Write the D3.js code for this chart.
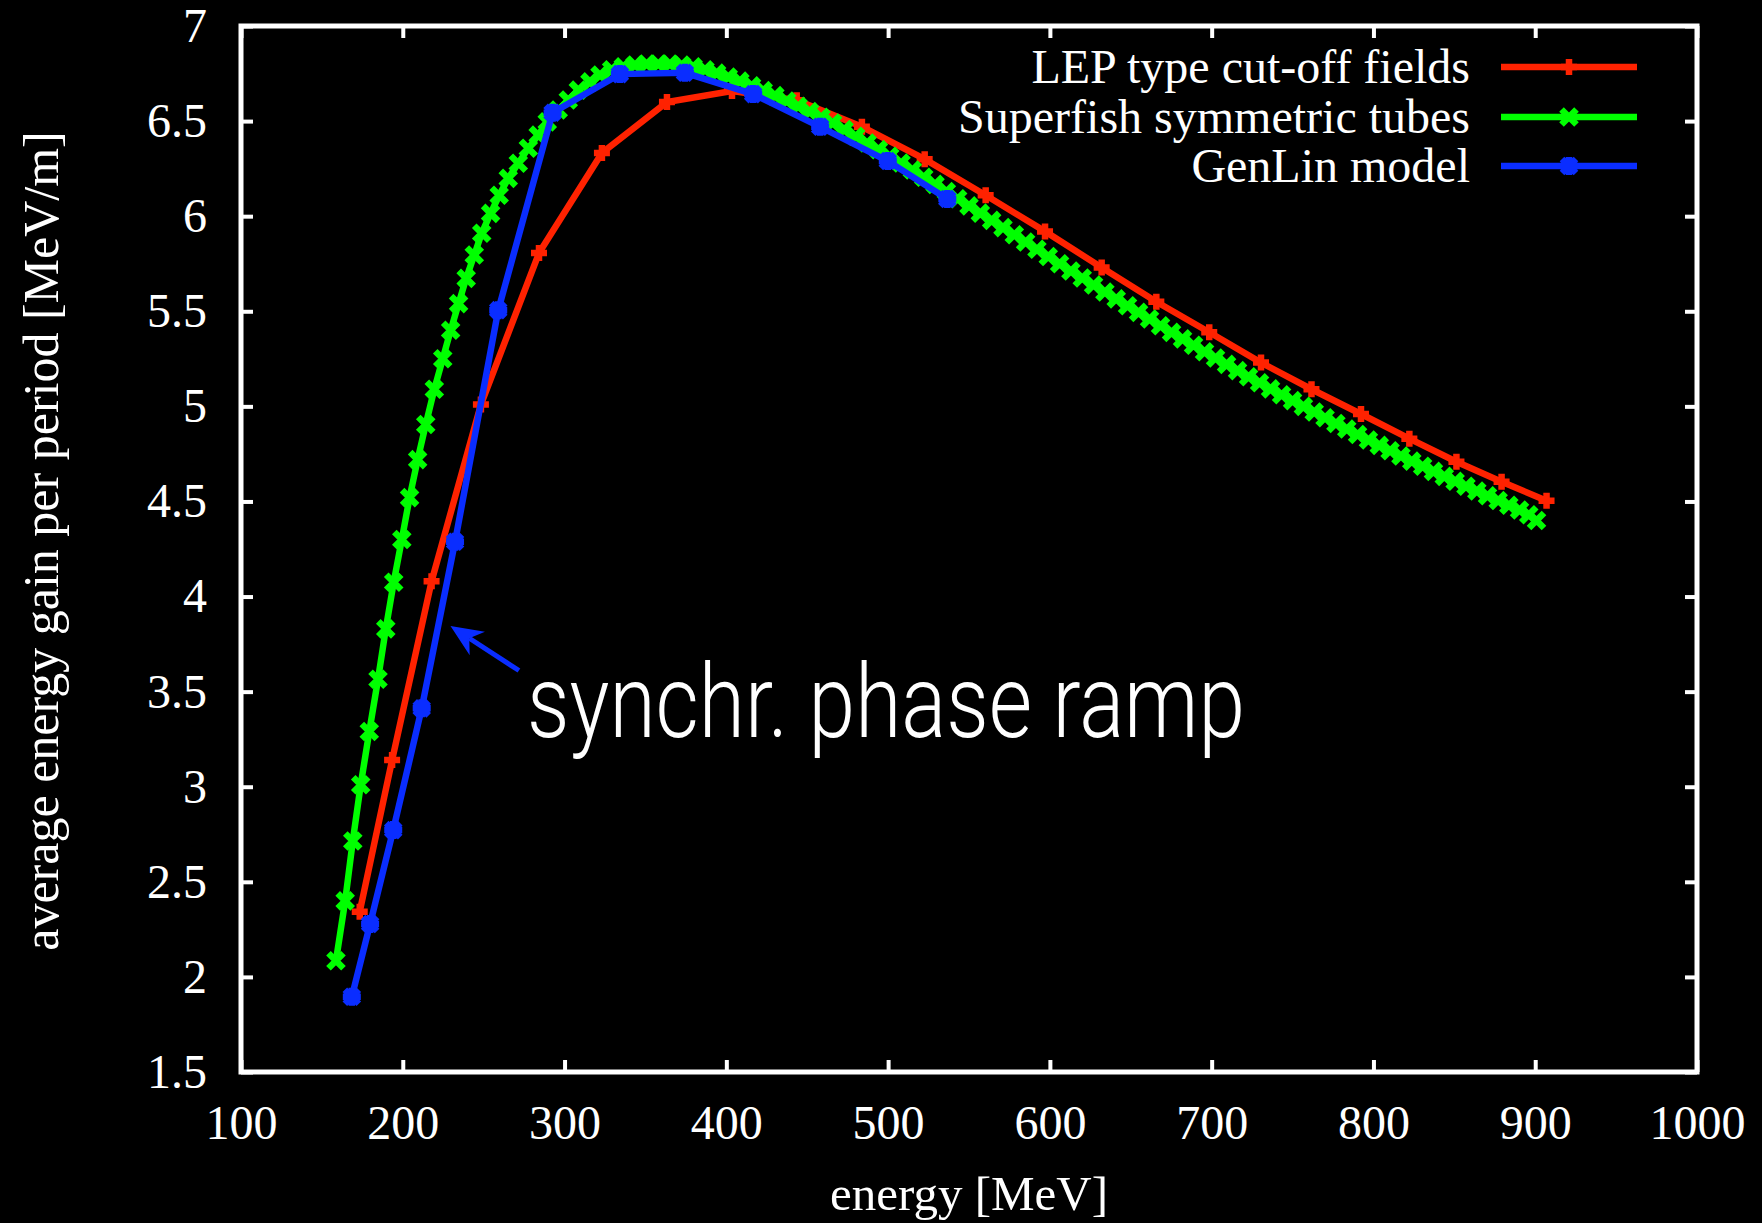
<!DOCTYPE html>
<html>
<head>
<meta charset="utf-8">
<script src="https://cdn.jsdelivr.net/npm/d3@7"></script>
<style>
html,body{margin:0;padding:0;background:#000;}
svg{display:block;}
</style>
</head>
<body>
<svg id="chart" width="1762" height="1223"></svg>
<script>
// ---------- data ----------
const xTicks = [100,200,300,400,500,600,700,800,900,1000];
const yTicks = [1.5,2,2.5,3,3.5,4,4.5,5,5.5,6,6.5,7];
const seriesNames = ["LEP type cut-off fields","Superfish symmetric tubes","GenLin model"];

const lepData = [
 [173.4,2.343],[193.4,3.14],[217.8,4.08],[248.3,5.01],[284.2,5.806],[323.1,6.332],
 [363.3,6.60],[403.5,6.658],[443.5,6.61],[483.8,6.47],[522.6,6.30],[560.3,6.11],
 [597,5.92],[632,5.73],[665.8,5.55],[698.5,5.39],[730.5,5.23],[761.7,5.09],
 [792.3,4.96],[822.2,4.83],[851.3,4.709],[879.2,4.604],[907,4.504]
];

const superfishData = [
 [158.7,2.085],[164.4,2.40],[169.1,2.715],[174.0,3.01],[179.3,3.29],[184.7,3.565],
 [189.5,3.83],[194.4,4.075],[199.4,4.30],[204.2,4.52],[209.2,4.72],[214.2,4.905],
 [219.5,5.09],[224.7,5.25],[229.6,5.40],[234.5,5.54],[239.2,5.673],[244.2,5.796],
 [248.8,5.91],[254.3,6.015],[259.6,6.11],[265.2,6.199],[271.4,6.278],[277.6,6.357],
 [283.7,6.426],[289.3,6.496],[296.1,6.558],[302.3,6.611],[308.5,6.663],[315.7,6.706],
 [321.9,6.742],[329.1,6.77],[336.3,6.785],[343.5,6.795],[350.7,6.80],[357.9,6.80],
 [365.1,6.80],[372.4,6.795],[379.5,6.785],[386.8,6.77],[394.0,6.752],[401.2,6.732],
 [408.4,6.71],[415.6,6.685],[422.8,6.66],[430.0,6.634],[437.3,6.606],[444.4,6.578],
 [451.5,6.55],[458.6,6.52],[465.7,6.49],[472.8,6.455],[479.9,6.42],[487,6.385],
 [494,6.35],[501,6.315],[508,6.28],[515,6.243],[522,6.205],[529,6.167],
 [536,6.13],[543,6.092],[550,6.054],[557,6.016],[564,5.978],[571,5.94],
 [578,5.902],[585,5.864],[592,5.826],[599,5.788],[606,5.75],[613,5.712],
 [620,5.675],[627,5.638],[634,5.601],[641,5.565],[648,5.529],[654.8,5.494],
 [661.6,5.459],[668.4,5.424],[675.2,5.389],[682,5.355],[688.8,5.321],[695.6,5.287],
 [702.4,5.254],[709.2,5.221],[716,5.188],[722.8,5.156],[729.6,5.124],[736.4,5.092],
 [743.2,5.061],[750,5.03],[756.7,5.0],[763.4,4.97],[770.1,4.94],[776.8,4.91],
 [783.5,4.881],[790.2,4.852],[796.9,4.823],[803.6,4.795],[810.3,4.767],[817,4.739],
 [823.7,4.712],[830.4,4.685],[837.1,4.658],[843.8,4.632],[850.5,4.606],[857.2,4.58],
 [863.9,4.555],[870.5,4.53],[877.1,4.505],[883.7,4.48],[890.3,4.455],[896.0,4.43],
 [900.8,4.40]
];

const genlinData = [
 [168.5,1.896],[179.8,2.278],[194.1,2.772],[211.7,3.412],[232.3,4.288],[259,5.506],
 [292.6,6.544],[334.2,6.747],[374.4,6.754],[416.6,6.642],[458,6.47],[499.8,6.29],
 [536.6,6.09]
];

const annotationText = "synchr. phase ramp";
const arrowFrom = [271.8,3.611];
const arrowTo = [229.5,3.845];
const textAt = [276.8,3.261];

// ---------- layout ----------
const W = 1762, H = 1223;
const L = 241, R = 1697, T = 26, B = 1072;
const svg = d3.select("#chart");
svg.append("rect").attr("width",W).attr("height",H).attr("fill","#000");

const x = d3.scaleLinear().domain([100,1000]).range([L,R]);
const y = d3.scaleLinear().domain([1.5,7]).range([B,T]);

const serif = "'Liberation Serif','Times New Roman',serif";
const TICK = 12;

function styleAxis(g){
  g.select(".domain").remove();
  g.selectAll(".tick line").attr("stroke","#fff").attr("stroke-width",4);
  g.selectAll(".tick text").attr("fill","#fff").style("font-family",serif).style("font-size","48px");
}

svg.append("g").attr("transform",`translate(0,${B})`)
  .call(d3.axisBottom(x).tickValues(xTicks).tickSizeInner(-TICK).tickSizeOuter(0).tickPadding(33).tickFormat(d3.format("d")))
  .call(styleAxis);
svg.append("g").attr("transform",`translate(0,${T})`)
  .call(d3.axisTop(x).tickValues(xTicks).tickSizeInner(-TICK).tickSizeOuter(0).tickFormat(""))
  .call(styleAxis);
svg.append("g").attr("transform",`translate(${L},0)`)
  .call(d3.axisLeft(y).tickValues(yTicks).tickSizeInner(-TICK).tickSizeOuter(0).tickPadding(34).tickFormat(d=>String(d)))
  .call(styleAxis);
svg.append("g").attr("transform",`translate(${R},0)`)
  .call(d3.axisRight(y).tickValues(yTicks).tickSizeInner(-TICK).tickSizeOuter(0).tickFormat(""))
  .call(styleAxis);

// frame
svg.append("rect").attr("x",L).attr("y",T).attr("width",R-L).attr("height",B-T)
  .attr("fill","none").attr("stroke","#fff").attr("stroke-width",5);

// axis titles
svg.append("text").attr("x",(L+R)/2).attr("y",1210).attr("text-anchor","middle")
  .attr("fill","#fff").style("font-family",serif).style("font-size","49px").text("energy [MeV]");
svg.append("text").attr("transform",`translate(58,${(T+B)/2 - 8}) rotate(-90)`).attr("text-anchor","middle")
  .attr("fill","#fff").style("font-family",serif).style("font-size","50px").text("average energy gain per period [MeV/m]");

// ---------- series ----------
const LW = 6.5;
const colors = ["#ff2200","#00ff00","#0a2dff"];
const plusPath = "M-8,0H8M0,-8V8";
const crossPath = "M-7.5,-7.5L7.5,7.5M-7.5,7.5L7.5,-7.5";
const starPath = "M-9,0H9M0,-9V9M-7,-7L7,7M-7,7L7,-7";
const markers = [plusPath, crossPath, starPath];
const datasets = [lepData, superfishData, genlinData];

const line = d3.line().x(d=>x(d[0])).y(d=>y(d[1]));
const plot = svg.append("g");
datasets.forEach((data,i)=>{
  const g = plot.append("g");
  g.append("path").datum(data).attr("d",line).attr("fill","none")
    .attr("stroke",colors[i]).attr("stroke-width",LW).attr("stroke-linejoin","miter");
  g.selectAll("path.m").data(data).join("path").attr("class","m")
    .attr("transform",d=>`translate(${x(d[0])},${y(d[1])})`)
    .attr("d",markers[i]).attr("fill","none").attr("stroke",colors[i]).attr("stroke-width",LW);
});

// ---------- legend ----------
const legY = [67,117,166];
const leg = svg.append("g");
seriesNames.forEach((n,i)=>{
  leg.append("text").attr("x",1470).attr("y",legY[i]).attr("dy","0.33em").attr("text-anchor","end")
    .attr("fill","#fff").style("font-family",serif).style("font-size","48px").text(n);
  leg.append("line").attr("x1",1501).attr("x2",1637).attr("y1",legY[i]).attr("y2",legY[i])
    .attr("stroke",colors[i]).attr("stroke-width",LW);
  leg.append("path").attr("transform",`translate(1569,${legY[i]})`).attr("d",markers[i])
    .attr("fill","none").attr("stroke",colors[i]).attr("stroke-width",LW);
});

// ---------- annotation ----------
const ax1 = x(arrowFrom[0]), ay1 = y(arrowFrom[1]);
const ax2 = x(arrowTo[0]), ay2 = y(arrowTo[1]);
const ang = Math.atan2(ay2-ay1, ax2-ax1);
const hl = 32, hw = 14;
const ux = Math.cos(ang), uy = Math.sin(ang);
const bx = ax2 - ux*hl, by = ay2 - uy*hl;
const nx = ax2 - ux*hl*0.7, ny = ay2 - uy*hl*0.7;
svg.append("line").attr("x1",ax1).attr("y1",ay1).attr("x2",nx).attr("y2",ny)
  .attr("stroke",colors[2]).attr("stroke-width",5);
svg.append("path").attr("d",`M${ax2},${ay2}L${bx-uy*hw},${by+ux*hw}L${nx},${ny}L${bx+uy*hw},${by-ux*hw}Z`)
  .attr("fill",colors[2]);
svg.append("text")
  .attr("transform",`translate(${x(textAt[0])},${y(textAt[1])}) scale(1,1.18)`)
  .attr("fill","#fff").style("font-family","Roboto,'Liberation Sans',Arial,sans-serif")
  .style("font-weight","300").style("font-size","86px")
  .attr("textLength",718).attr("lengthAdjust","spacingAndGlyphs").text(annotationText);
</script>
</body>
</html>
